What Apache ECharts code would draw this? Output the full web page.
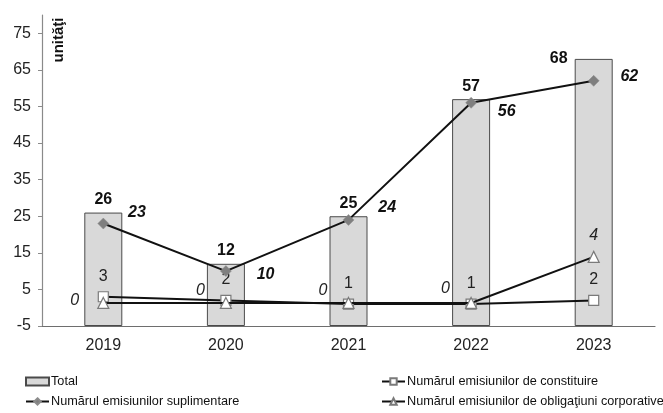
<!DOCTYPE html>
<html><head><meta charset="utf-8">
<script src="https://cdn.jsdelivr.net/npm/echarts@6/dist/echarts.min.js"></script>
<style>html,body{margin:0;padding:0;background:#fff}#c{width:663px;height:413px}</style>
</head><body><div id="c"></div>
<script>
const years = ['2019', '2020', '2021', '2022', '2023'];
const total = [26, 12, 25, 57, 68];
const suplimentare = [23, 10, 24, 56, 62];
const constituire = [3, 2, 1, 1, 2];
const obligatiuni = [0, 0, 0, 0, 4];
const yTicks = [-5, 5, 15, 25, 35, 45, 55, 65, 75];
const names = {
  total: 'Total',
  constituire: 'Numărul emisiunilor de constituire',
  suplimentare: 'Numărul emisiunilor suplimentare',
  obligatiuni: 'Numărul emisiunilor de obligaţiuni corporative'
};
const unitName = 'unităţi';

const FONT = '"Liberation Sans", Arial, sans-serif';
// label placement tweaks per point
const totalLabelPos = [null, null, null, null, {position: 'top', offset: [-35, 13]}];
const suplOffsets = [[14, -11], [20, 3], [19, -12], [16, 9], [16, -4]];
const oblLabel = [
  {position: 'left', offset: [-13, -2]},
  {position: 'left', offset: [-10, -12]},
  {position: 'left', offset: [-10, -12]},
  {position: 'left', offset: [-10, -14]},
  {position: 'top', offset: [0, -2]}
];

const chart = echarts.init(document.getElementById('c'), null, {renderer: 'canvas'});
chart.setOption({
  animation: false,
  backgroundColor: '#fff',
  textStyle: {fontFamily: FONT},
  grid: {left: 42, right: 8, top: 15, bottom: 87},
  graphic: [{
    type: 'text', x: 59, y: 40, rotation: Math.PI / 2,
    style: {text: unitName, font: 'bold 15px ' + FONT, fill: '#111', textAlign: 'center', textVerticalAlign: 'middle'}
  }],
  legend: [
    {left: 25, top: 375, orient: 'vertical', padding: 0, itemGap: 7, itemWidth: 23, itemHeight: 8,
     textStyle: {fontSize: 12.7, color: '#111', fontFamily: FONT, padding: [0, 0, 0, -3]},
     data: [{name: names.total, icon: 'rect'}, names.suplimentare]},
    {left: 381, top: 375, orient: 'vertical', padding: 0, itemGap: 7, itemWidth: 23, itemHeight: 8,
     textStyle: {fontSize: 12.7, color: '#111', fontFamily: FONT, padding: [0, 0, 0, -3]},
     data: [names.constituire, names.obligatiuni]}
  ],
  xAxis: {
    type: 'category', data: years,
    axisLine: {onZero: false, lineStyle: {color: '#6e6e6e', width: 1.2}},
    axisTick: {show: false},
    axisLabel: {fontSize: 16, color: '#222', margin: 12, fontFamily: FONT}
  },
  yAxis: [
    {type: 'value', min: -5, max: 80, startValue: -5,
     axisLine: {show: true, lineStyle: {color: '#8a8a8a', width: 1.2}},
     axisTick: {show: true, length: 4, lineStyle: {color: '#8a8a8a'}, customValues: yTicks},
     splitLine: {show: false},
     axisLabel: {fontSize: 16, color: '#222', margin: 11, fontFamily: FONT, customValues: yTicks}},
    {type: 'value', min: -2, max: 25, show: false, splitLine: {show: false}}
  ],
  series: [
    {
      name: names.total, type: 'bar', barWidth: 38,
      itemStyle: {color: '#d9d9d9', borderColor: '#4a4a4a', borderWidth: 1},
      label: {show: true, position: 'top', distance: 5, fontSize: 16, fontWeight: 'bold', color: '#111', fontFamily: FONT},
      data: total.map((v, i) => totalLabelPos[i] ? {value: v, label: totalLabelPos[i]} : v),
      z: 1
    },
    {
      name: names.constituire, type: 'line', symbol: 'rect', symbolSize: 10, showAllSymbol: true,
      lineStyle: {color: '#111', width: 2},
      itemStyle: {color: '#fff', borderColor: '#7a7a7a', borderWidth: 1.2},
      label: {show: true, position: 'top', distance: 7, fontSize: 16, color: '#222', fontFamily: FONT},
      data: constituire, z: 3
    },
    {
      name: names.obligatiuni, type: 'line', yAxisIndex: 1, symbol: 'triangle', symbolSize: 11, showAllSymbol: true,
      lineStyle: {color: '#111', width: 2},
      itemStyle: {color: '#fff', borderColor: '#7a7a7a', borderWidth: 1.2},
      label: {show: true, fontSize: 16, fontStyle: 'italic', color: '#222', fontFamily: FONT},
      data: obligatiuni.map((v, i) => ({value: v, label: oblLabel[i]})), z: 4
    },
    {
      name: names.suplimentare, type: 'line', symbol: 'diamond', symbolSize: 11, showAllSymbol: true,
      lineStyle: {color: '#111', width: 2},
      itemStyle: {color: '#7f7f7f', borderColor: '#8c8c8c', borderWidth: 0.5},
      label: {show: true, position: 'right', distance: 5, fontSize: 16, fontWeight: 'bold', fontStyle: 'italic', color: '#111', fontFamily: FONT},
      data: suplimentare.map((v, i) => ({value: v, label: {offset: suplOffsets[i]}})), z: 5
    }
  ]
});
</script></body></html>
